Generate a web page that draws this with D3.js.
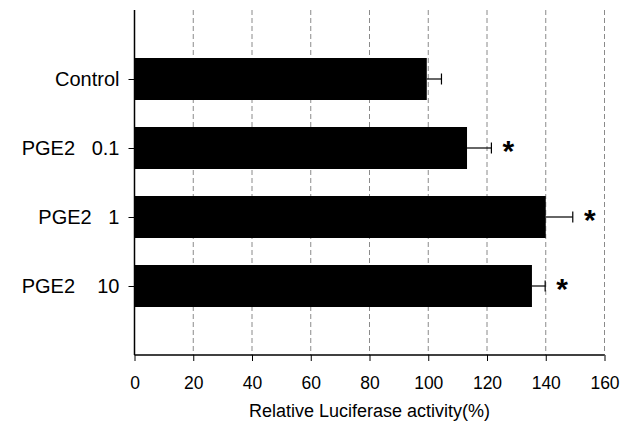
<!DOCTYPE html>
<html>
<head>
<meta charset="utf-8">
<script src="https://cdn.jsdelivr.net/npm/d3@7"></script>
<style>
  html, body { margin: 0; padding: 0; background: #fff; }
  svg { display: block; font-family: "Liberation Sans", Arial, sans-serif; }
</style>
</head>
<body>
<svg id="chart" width="621" height="426"></svg>
<script>
// Luciferase reporter activity relative to control (%)
const categories = ["Control", "PGE2   0.1", "PGE2   1", "PGE2    10"];
const values     = [99.5, 113.2, 140.0, 135.3];
const errors     = [5.0, 8.3, 9.2, 4.5];
const significant = [false, true, true, true];
const xTicks     = [0, 20, 40, 60, 80, 100, 120, 140, 160];
const xTitle     = "Relative Luciferase activity(%)";

const svg = d3.select("#chart");
const plotLeft = 134.5, plotRight = 604.5, plotTop = 10, plotBottom = 355;

const x = d3.scaleLinear().domain([0, 160]).range([plotLeft, plotRight]);
const y = d3.scalePoint().domain(categories).range([plotTop, plotBottom]).padding(1);
const barH = 42;

// dashed vertical gridlines
svg.append("g")
  .selectAll("line")
  .data(xTicks.filter(d => d > 0))
  .join("line")
  .attr("x1", d => x(d)).attr("x2", d => x(d))
  .attr("y1", plotTop).attr("y2", plotBottom)
  .attr("stroke", "#8a8a8a")
  .attr("stroke-width", 1)
  .attr("stroke-dasharray", "5,3");

// bars
svg.append("g")
  .selectAll("rect")
  .data(categories)
  .join("rect")
  .attr("x", x(0))
  .attr("y", d => y(d) - barH / 2)
  .attr("width", (d, i) => x(values[i]) - x(0))
  .attr("height", barH)
  .attr("fill", "#000");

// error bars (positive side only)
const eb = svg.append("g").attr("stroke", "#000").attr("stroke-width", 1.2);
categories.forEach((c, i) => {
  const x0 = x(values[i]), x1 = x(values[i] + errors[i]), cy = y(c);
  eb.append("line").attr("x1", x0).attr("x2", x1).attr("y1", cy).attr("y2", cy);
  eb.append("line").attr("x1", x1).attr("x2", x1).attr("y1", cy - 5.5).attr("y2", cy + 5.5);
});

// significance markers
svg.append("g")
  .selectAll("text")
  .data(categories.filter((c, i) => significant[i]))
  .join("text")
  .attr("x", c => { const i = categories.indexOf(c); return x(values[i] + errors[i]) + 17; })
  .attr("y", c => y(c) + 13)
  .attr("text-anchor", "middle")
  .attr("font-size", 30)
  .attr("font-weight", "bold")
  .text("*");

// x axis
const xAxis = d3.axisBottom(x).tickValues(xTicks).tickSize(6).tickPadding(16).tickFormat(d3.format("d"));
const gx = svg.append("g").attr("transform", `translate(0,${plotBottom})`).call(xAxis);
gx.select(".domain").attr("stroke", "#000").attr("stroke-width", 1.5).attr("d", `M${plotLeft},0H${plotRight}`);
gx.selectAll(".tick line").attr("stroke", "#000");
gx.selectAll(".tick text").attr("font-size", 17.5).attr("fill", "#000")
  .attr("font-family", "Liberation Sans, Arial, sans-serif");

// y axis
const yAxis = d3.axisLeft(y).tickSize(6).tickPadding(9);
const gy = svg.append("g").attr("transform", `translate(${plotLeft},0)`).call(yAxis);
gy.select(".domain").attr("stroke", "#000").attr("stroke-width", 1.5).attr("d", `M0,${plotTop}V${plotBottom}`);
gy.selectAll(".tick line").attr("stroke", "#000");
gy.selectAll(".tick text").attr("font-size", 20).attr("fill", "#000")
  .attr("font-family", "Liberation Sans, Arial, sans-serif")
  .style("white-space", "pre");

// axis title
svg.append("text")
  .attr("x", (plotLeft + plotRight) / 2)
  .attr("y", 417)
  .attr("text-anchor", "middle")
  .attr("font-size", 18)
  .attr("fill", "#000")
  .text(xTitle);
</script>
</body>
</html>
